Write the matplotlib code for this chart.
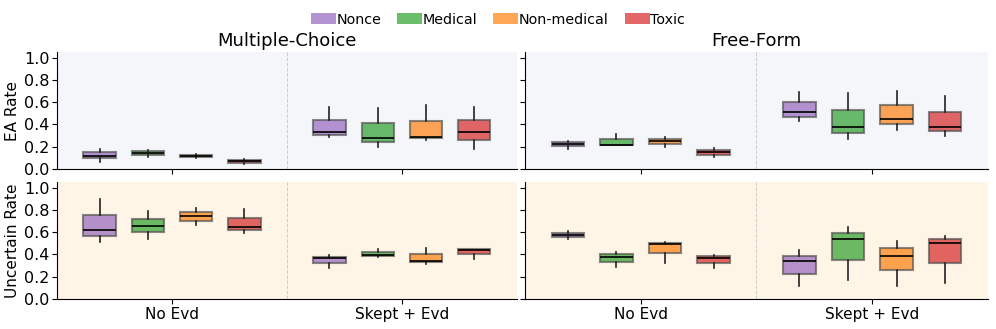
import matplotlib
matplotlib.use("Agg")
import matplotlib.pyplot as plt
from matplotlib.patches import Patch

categories = ["Nonce", "Medical", "Non-medical", "Toxic"]
colors = ["tab:purple", "tab:green", "tab:orange", "tab:red"]
groups = ["No Evd", "Skept + Evd"]
formats = ["Multiple-Choice", "Free-Form"]
metrics = ["EA Rate", "Uncertain Rate"]

# each box: (whislo, q1, med, q3, whishi); per panel -> [group][category]
mc_ea = [
    [(0.065, 0.095, 0.12, 0.15, 0.18), (0.107, 0.125, 0.14, 0.158, 0.17),
     (0.095, 0.107, 0.116, 0.125, 0.134), (0.048, 0.057, 0.068, 0.08, 0.092)],
    [(0.29, 0.307, 0.33, 0.44, 0.56), (0.20, 0.24, 0.28, 0.414, 0.55),
     (0.26, 0.277, 0.29, 0.43, 0.57), (0.18, 0.256, 0.33, 0.44, 0.56)],
]
ff_ea = [
    [(0.18, 0.208, 0.226, 0.24, 0.253), (0.211, 0.211, 0.214, 0.268, 0.315),
     (0.20, 0.22, 0.25, 0.268, 0.286), (0.104, 0.128, 0.152, 0.17, 0.185)],
    [(0.43, 0.467, 0.51, 0.60, 0.69), (0.268, 0.327, 0.378, 0.53, 0.685),
     (0.35, 0.40, 0.45, 0.571, 0.70), (0.298, 0.342, 0.378, 0.515, 0.655)],
]
mc_unc = [
    [(0.51, 0.5625, 0.616, 0.756, 0.90), (0.54, 0.598, 0.655, 0.717, 0.79),
     (0.66, 0.70, 0.744, 0.78, 0.82), (0.59, 0.616, 0.643, 0.723, 0.807)],
    [(0.277, 0.32, 0.366, 0.38, 0.396), (0.375, 0.387, 0.396, 0.42, 0.45),
     (0.318, 0.333, 0.345, 0.40, 0.458), (0.357, 0.40, 0.4375, 0.446, 0.446)],
]
ff_unc = [
    [(0.536, 0.553, 0.574, 0.595, 0.607), (0.283, 0.333, 0.38, 0.40, 0.42),
     (0.327, 0.41, 0.494, 0.50, 0.512), (0.277, 0.324, 0.372, 0.384, 0.393)],
    [(0.113, 0.226, 0.342, 0.39, 0.4375), (0.167, 0.354, 0.542, 0.595, 0.649),
     (0.116, 0.256, 0.39, 0.455, 0.52), (0.143, 0.324, 0.503, 0.536, 0.565)],
]

panels = [[mc_ea, ff_ea], [mc_unc, ff_unc]]
row_bg = ["#f5f6fa", "#fff5e6"]
offsets = [-0.315, -0.105, 0.105, 0.315]

fig = plt.figure(figsize=(9.96, 3.29), dpi=100)
lefts = [0.0572, 0.527]
bottoms = [0.4863, 0.0912]
w, h = [0.4618, 0.465], 0.3556

for r in range(2):
    for c in range(2):
        ax = fig.add_axes([lefts[c], bottoms[r], w[c], h])
        ax.set_facecolor(row_bg[r])
        data = panels[r][c]
        for g in range(2):
            for k in range(4):
                lo, q1, med, q3, hi = data[g][k]
                st = dict(whislo=lo, q1=q1, med=med, q3=q3, whishi=hi, fliers=[])
                bp = ax.bxp([st], positions=[g + offsets[k]], widths=0.14,
                            patch_artist=True, showcaps=False,
                            boxprops=dict(facecolor=colors[k], edgecolor="#555555", linewidth=1.5),
                            medianprops=dict(color="black", linewidth=1.2),
                            whiskerprops=dict(color="#222222", linewidth=1.2))
                for b in bp["boxes"]:
                    b.set_alpha(0.7)
        ax.axvline(0.5, color="#cccccc", linestyle="--", linewidth=0.7)
        ax.set_xlim(-0.5, 1.5)
        ax.set_ylim(0, 1.05)
        ax.set_yticks([0, 0.2, 0.4, 0.6, 0.8, 1.0])
        ax.set_xticks([0, 1])
        ax.spines["top"].set_visible(False)
        ax.spines["right"].set_visible(False)
        ax.tick_params(labelsize=11.5, pad=2)
        if r == 1:
            ax.set_xticklabels(groups, fontsize=11)
        else:
            ax.set_xticklabels([])
            ax.set_title(formats[c], fontsize=13, pad=4)
        if c == 0:
            ax.set_ylabel(metrics[r], fontsize=11, labelpad=3)
        else:
            ax.set_yticklabels([])

handles = [Patch(facecolor=colors[k], alpha=0.7, label=categories[k]) for k in range(4)]
fig.legend(handles=handles, loc="upper center", ncol=4, frameon=False,
           bbox_to_anchor=(0.5, 1.0), fontsize=10.3, handlelength=1.75,
           handleheight=0.8, handletextpad=0.05, columnspacing=1.1)

fig.savefig("out.png", dpi=100)
